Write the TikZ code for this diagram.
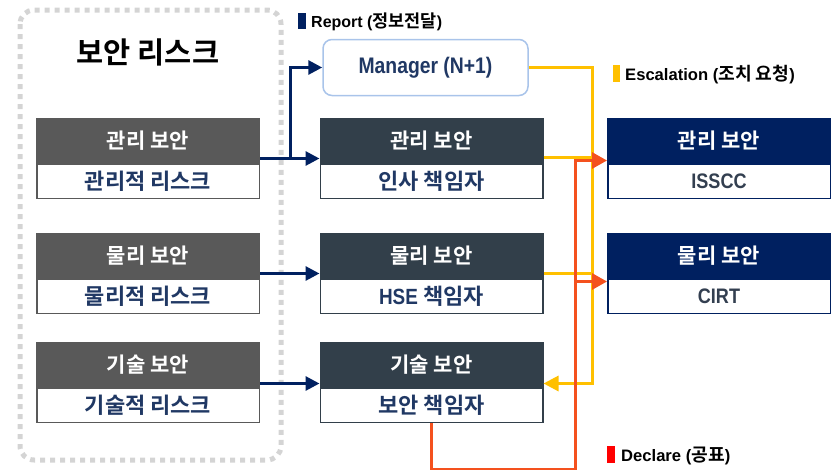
\documentclass[tikz,border=0pt]{standalone}
\usepackage{fontspec}
\setmainfont{Liberation Sans}[FakeStretch=0.86]
\newfontfamily\wide{Liberation Sans}
\newfontfamily\kr{Noto Sans CJK KR}[BoldFont={Noto Sans CJK KR Bold}]
\usetikzlibrary{arrows.meta}
\newcommand\K[1]{{\kr #1}}
\newcommand\KL[1]{{\kr\fontsize{17.5}{18}\selectfont #1}}
\newcommand\KLL[1]{{\kr\fontsize{18.2}{19}\selectfont #1}}
\definecolor{lgrey}{HTML}{595959}
\definecolor{mslate}{HTML}{323F4A}
\definecolor{rnavy}{HTML}{002060}
\definecolor{navytext}{HTML}{203864}
\definecolor{slatetext}{HTML}{333F50}
\definecolor{mgrborder}{HTML}{A9C4EA}
\definecolor{yel}{HTML}{FFC000}
\definecolor{redo}{HTML}{F4511E}
\definecolor{dotgrey}{HTML}{D4D4D4}
\tikzset{
  boxbase/.style={rectangle, minimum width=222.5pt, inner sep=0pt, line width=1.5pt, anchor=north},
  hfont/.style={font=\bfseries\kr\fontsize{21}{24}\selectfont},
  bfont/.style={font=\bfseries\fontsize{22}{24}\selectfont},
  lhead/.style={boxbase, hfont, draw=lgrey, fill=lgrey, text=white, minimum height=44pt},
  lbody/.style={boxbase, bfont, draw=lgrey, fill=white, text=navytext, minimum height=34pt},
  mhead/.style={boxbase, hfont, draw=mslate, fill=mslate, text=white, minimum height=44pt},
  mbody/.style={boxbase, bfont, draw=mslate, fill=white, text=navytext, minimum height=34pt},
  rhead/.style={boxbase, hfont, draw=rnavy, fill=rnavy, text=white, minimum height=44pt},
  rbody/.style={boxbase, font=\bfseries\fontsize{21}{24}\selectfont, draw=rnavy, fill=white, text=slatetext, minimum height=34pt},
  navyarr/.style={draw=rnavy, line width=3pt, -{Triangle[length=14pt,width=14pt]}},
  yelline/.style={draw=yel, line width=3pt},
  yelarr/.style={yelline, -{Triangle[length=15pt,width=15pt]}},
  redarr/.style={draw=redo, line width=3pt, -{Triangle[length=15pt,width=16pt]}},
  legend/.style={anchor=west, inner sep=0pt, font=\bfseries\wide\fontsize{#1}{18}\selectfont, text=black}
}
\begin{document}
\begin{tikzpicture}[x=1pt,y=-1pt]
\useasboundingbox (0,0) rectangle (836,469);
% dotted container
\draw[dotgrey, line width=5pt, dash pattern=on 5pt off 5pt, rounded corners=14pt] (20,10) rectangle (281,460);
\node[font=\bfseries\kr\fontsize{29.5}{32}\selectfont] (title) at (148,52) {보안 리스크};
% left column
\node[lhead] (lh1) at (148,118) {관리 보안};
\node[lbody] (lb1) at (lh1.south) {\K{관리적 리스크}};
\node[lhead] (lh2) at (148,233) {물리 보안};
\node[lbody] (lb2) at (lh2.south) {\K{물리적 리스크}};
\node[lhead] (lh3) at (148,342) {기술 보안};
\node[lbody] (lb3) at (lh3.south) {\K{기술적 리스크}};
% middle column
\node[rectangle, rounded corners=9pt, draw=mgrborder, line width=1.5pt, fill=white,
      minimum width=205pt, minimum height=56pt, text=navytext,
      font=\bfseries\fontsize{22.5}{26}\selectfont] (mgr) at (425.5,67.5) {Manager (N+1)};
\node[mhead] (mh1) at (431.5,118) {관리 보안};
\node[mbody] (mb1) at (mh1.south) {\K{인사 책임자}};
\node[mhead] (mh2) at (431.5,233) {물리 보안};
\node[mbody] (mb2) at (mh2.south) {HSE \K{책임자}};
\node[mhead] (mh3) at (431.5,342) {기술 보안};
\node[mbody] (mb3) at (mh3.south) {\K{보안 책임자}};
% right column
\node[rhead] (rh1) at (719,118) {관리 보안};
\node[rbody] (rb1) at (rh1.south) {ISSCC};
\node[rhead] (rh2) at (719,233) {물리 보안};
\node[rbody] (rb2) at (rh2.south) {CIRT};
% legends
\fill[rnavy] (298,13) rectangle (306,29);
\node[legend=16] (lgr) at (311,22) {Report (\KL{정보전달})};
\fill[yel] (613,65) rectangle (620,82);
\node[legend=16.6] (lge) at (625,75) {Escalation (\KLL{조치 요청})};
\fill[red] (607,446) rectangle (615,463);
\node[legend=16.6] (lgd) at (621,456) {Declare (\KLL{공표})};
% helper coordinates
\coordinate (yx) at (592,0);
\coordinate (rx) at (575,0);
\coordinate (m1e) at ([yshift=6pt]mh1.south east);
\coordinate (m2e) at ([yshift=5pt]mh2.south east);
\coordinate (m3e) at ([yshift=4pt]mh3.south east);
\coordinate (r1w) at ([yshift=3pt]rh1.south west);
\coordinate (r2w) at ([yshift=-3pt]rh2.south west);
% report arrows
\draw[navyarr] ([yshift=5pt]lh1.south east) -- ([yshift=5pt]mh1.south west);
\draw[navyarr] ([yshift=5pt]lh1.south east) -- ++(30,0) |- (mgr.west);
\draw[navyarr] ([yshift=5pt]lh2.south east) -- ([yshift=5pt]mh2.south west);
\draw[navyarr] ([yshift=4pt]lh3.south east) -- ([yshift=4pt]mh3.south west);
% escalation
\draw[yelarr] (mgr.east) -| (m3e -| yx) -- (m3e);
\draw[yelline] (m1e) -- (m1e -| yx);
\draw[yelline] (m2e) -- (m2e -| yx);
% declare
\draw[redarr] (mb3.south) -- ++(0,46) -| (r1w -| rx) -- (r1w);
\draw[redarr] (r2w -| rx) -- (r2w);
\end{tikzpicture}
\end{document}
